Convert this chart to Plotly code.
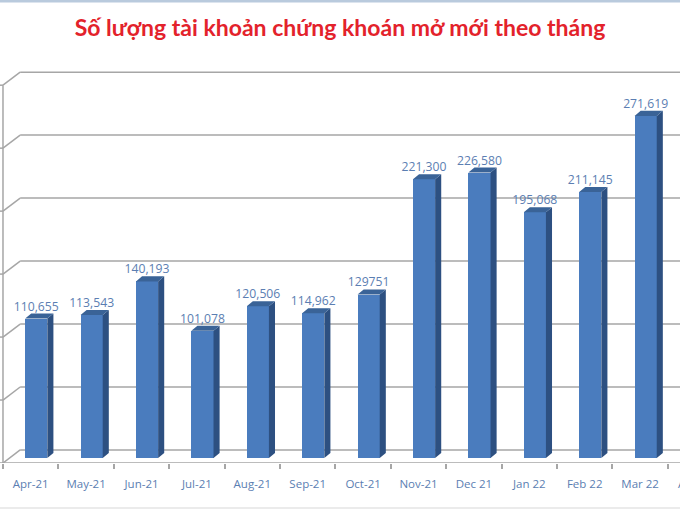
"""Monthly new securities accounts, drawn as an Excel-style 3D column chart."""

import plotly.graph_objects as go

# data (last month is cut off at the right edge; value estimated)
months = [
    "Apr-21", "May-21", "Jun-21", "Jul-21", "Aug-21", "Sep-21", "Oct-21",
    "Nov-21", "Dec 21", "Jan 22", "Feb 22", "Mar 22", "Apr 22",
]
new_accounts = [
    110655, 113543, 140193, 101078, 120506, 114962, 129751,
    221300, 226580, 195068, 211145, 271619, 231500,
]
value_labels = [
    "110,655", "113,543", "140,193", "101,078", "120,506", "114,962", "129751",
    "221,300", "226,580", "195,068", "211,145", "271,619", "231,500",
]
grid_values = [0, 50000, 100000, 150000, 200000, 250000, 300000]

TITLE = "Số lượng tài khoản chứng khoán mở mới theo tháng"

FRONT = "#4a7cbe"
SIDE = "#2d5081"
TOP = "#3a6397"
GRID = "#a6a6a6"
LABEL = "#5b7eb2"

W, H = 680, 510
MARGIN = dict(l=0, r=0, t=60, b=47)
PLOT_H = H - MARGIN["t"] - MARGIN["b"]

# 3D look (in axis units)
BAR_W = 0.40
BAR_OFF = -0.10
DEPTH_X = 0.11
DEPTH_Y = 4000
FRONT_Y = -4000      # front plane (left wall ticks, floor edge)
BACK_Y = 6350        # back wall offset for gridlines
WALL_X = -0.5
BACK_X = -0.19
X_RANGE = [-0.554, 11.72]

idx = list(range(len(months)))

fig = go.Figure()

# front faces
fig.add_trace(go.Bar(
    x=idx, y=new_accounts, width=BAR_W, offset=BAR_OFF,
    marker=dict(color=FRONT, line=dict(width=0)),
    showlegend=False, hoverinfo="skip",
))

# side and top faces of each column
side_x, side_y, top_x, top_y = [], [], [], []
for i, v in zip(idx, new_accounts):
    r = i + BAR_OFF + BAR_W
    l = i + BAR_OFF
    side_x += [r, r, r + DEPTH_X, r + DEPTH_X, r, None]
    side_y += [0, v, v + DEPTH_Y, DEPTH_Y, 0, None]
    top_x += [l, r, r + DEPTH_X, l + DEPTH_X, l, None]
    top_y += [v, v, v + DEPTH_Y, v + DEPTH_Y, v, None]

fig.add_trace(go.Scatter(
    x=side_x, y=side_y, mode="lines", fill="toself",
    fillcolor=SIDE, line=dict(width=0, color=SIDE),
    showlegend=False, hoverinfo="skip",
))
fig.add_trace(go.Scatter(
    x=top_x, y=top_y, mode="lines", fill="toself",
    fillcolor=TOP, line=dict(width=0, color=TOP),
    showlegend=False, hoverinfo="skip",
))

# value labels
fig.add_trace(go.Scatter(
    x=[i + BAR_OFF + BAR_W / 2 for i in idx],
    y=[v + DEPTH_Y for v in new_accounts],
    mode="text", text=value_labels, textposition="top center",
    textfont=dict(size=12.2, color=LABEL, family="Open Sans"),
    cliponaxis=False, showlegend=False, hoverinfo="skip",
))

# walls and gridlines
shapes = []
for g in grid_values:
    shapes.append(dict(
        type="line", xref="x", yref="y", layer="below",
        x0=BACK_X, x1=X_RANGE[1], y0=g + BACK_Y, y1=g + BACK_Y,
        line=dict(color=GRID, width=1.5),
    ))
    shapes.append(dict(
        type="line", xref="x", yref="y", layer="below",
        x0=WALL_X, x1=BACK_X, y0=g + FRONT_Y, y1=g + BACK_Y,
        line=dict(color=GRID, width=1.5),
    ))
    shapes.append(dict(
        type="line", xref="x", yref="y", layer="below",
        x0=X_RANGE[0], x1=WALL_X, y0=g + FRONT_Y, y1=g + FRONT_Y,
        line=dict(color=GRID, width=1.5),
    ))
shapes.append(dict(
    type="line", xref="x", yref="y",
    x0=WALL_X, x1=WALL_X, y0=FRONT_Y, y1=grid_values[-1] + FRONT_Y,
    line=dict(color=GRID, width=1.5),
))
shapes.append(dict(
    type="line", xref="x", yref="y",
    x0=WALL_X, x1=X_RANGE[1], y0=FRONT_Y, y1=FRONT_Y,
    line=dict(color=GRID, width=1.5),
))
# thin frame edges of the screenshot (paper units span the plot area only)
top_edge = 1 + (MARGIN["t"] - 1) / PLOT_H
bottom_edge = -(MARGIN["b"] - 2) / PLOT_H
shapes.append(dict(
    type="line", xref="paper", yref="paper",
    x0=0, x1=1, y0=top_edge, y1=top_edge,
    line=dict(color="#b9cadd", width=3),
))
shapes.append(dict(
    type="line", xref="paper", yref="paper",
    x0=0, x1=1, y0=bottom_edge, y1=bottom_edge,
    line=dict(color="#e4e4e4", width=1.5),
))

# label of the cut-off last month (axis-referenced annotations outside the
# range are hidden, so place it in paper units)
last_x = (idx[-1] - X_RANGE[0]) / (X_RANGE[1] - X_RANGE[0])
fig.add_annotation(
    x=last_x, y=0, xref="paper", yref="paper", xanchor="center",
    text=months[-1], showarrow=False, yanchor="top", yshift=-11,
    font=dict(size=11.5, color=LABEL, family="Open Sans"),
)

fig.update_layout(
    title=dict(
        text=f"<b>{TITLE}</b>",
        font=dict(size=23, color="#e3222b", family="Lato"),
        x=0.5, xanchor="center", y=1 - 28 / H, yanchor="middle",
    ),
    xaxis=dict(
        range=X_RANGE,
        tickvals=idx, ticktext=months,
        ticks="outside", ticklen=10, tickcolor="rgba(0,0,0,0)",
        tickfont=dict(size=11.5, color=LABEL, family="Open Sans"),
        minor=dict(
            tickvals=[i - 0.5 for i in idx] + [idx[-1] + 0.5],
            ticks="outside", ticklen=5, tickcolor=GRID, tickwidth=1.5,
            showgrid=False,
        ),
        showgrid=False, zeroline=False, showline=False,
    ),
    yaxis=dict(
        range=[-4000, 316000],
        showticklabels=False, showgrid=False, zeroline=False, showline=False,
    ),
    shapes=shapes,
    bargap=0,
    plot_bgcolor="#FFFFFF",
    paper_bgcolor="#FFFFFF",
    width=W, height=H,
    margin=MARGIN,
    font=dict(family="Open Sans"),
)

# page body has a default 8px margin; drop it so the chart fills the window
fig.write_html(
    "out.html",
    config={"displayModeBar": False},
    post_script="document.body.style.margin = '0';",
)
